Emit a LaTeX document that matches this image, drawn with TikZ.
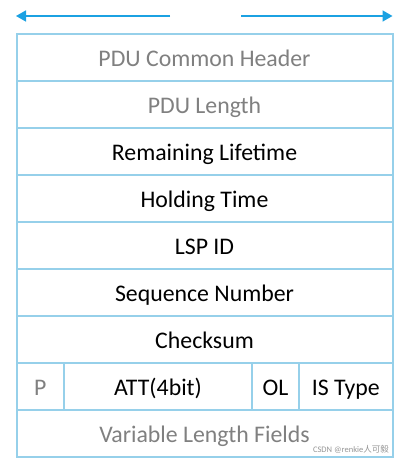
\documentclass[tikz,border=0pt]{standalone}
\usepackage{fontspec}
\setmainfont{Carlito}
\newfontfamily\cjkfont{Noto Sans CJK SC}
\usetikzlibrary{arrows.meta}
\definecolor{cellline}{RGB}{150,208,234}
\definecolor{arrowblue}{RGB}{27,161,226}
\definecolor{greytext}{RGB}{128,128,128}
\definecolor{wmgrey}{RGB}{150,150,150}
\tikzset{
  cell/.style={draw=cellline, line width=2pt, rectangle, inner sep=0pt, anchor=north west,
    minimum height=46.94pt, text height=20pt, text depth=2pt,
    font=\fontsize{23.8}{26}\selectfont, text=black},
  greycell/.style={cell, text=greytext},
  dirarrow/.style={draw=arrowblue, line width=1.6pt, -{Triangle[length=10pt,width=11pt]}}
}
\begin{document}
\begin{tikzpicture}[x=1pt,y=-1pt]
\useasboundingbox (0,0) rectangle (408,465);
\fill[white] (0,0) rectangle (408,465);
% rows
\node[greycell, minimum width=376pt] (r1) at (15.5,33.5) {PDU Common Header};
\node[greycell, minimum width=376pt] (r2) at (15.5,80.44) {PDU Length};
\node[cell, minimum width=376pt] (r3) at (15.5,127.38) {Remaining Lifetime};
\node[cell, minimum width=376pt] (r4) at (15.5,174.32) {Holding Time};
\node[cell, minimum width=376pt] (r5) at (15.5,221.26) {LSP ID};
\node[cell, minimum width=376pt] (r6) at (15.5,268.2) {Sequence Number};
\node[cell, minimum width=376pt] (r7) at (15.5,315.14) {Checksum};
\node[greycell, minimum width=47.5pt] (p) at (15.5,362.08) {P};
\node[cell, minimum width=188pt] (att) at (63,362.08) {ATT(4bit)};
\node[cell, minimum width=47pt] (ol) at (251,362.08) {OL};
\node[cell, minimum width=93.5pt] (ist) at (298,362.08) {IS Type};
\node[greycell, minimum width=376pt] (r9) at (15.5,409.02) {Variable Length Fields};
% watermark
\node[anchor=south east, inner sep=0pt, text=wmgrey, font=\fontsize{8.5}{9}\selectfont] (wm) at (389,454) {CSDN @renkie{\cjkfont 人可毅}};
% arrows
\coordinate (la) at (170,16);
\coordinate (lt) at (16,16);
\coordinate (ra) at (241,16);
\coordinate (rt) at (392.5,16);
\draw[dirarrow] (la) -- (lt);
\draw[dirarrow] (ra) -- (rt);
\end{tikzpicture}
\end{document}
